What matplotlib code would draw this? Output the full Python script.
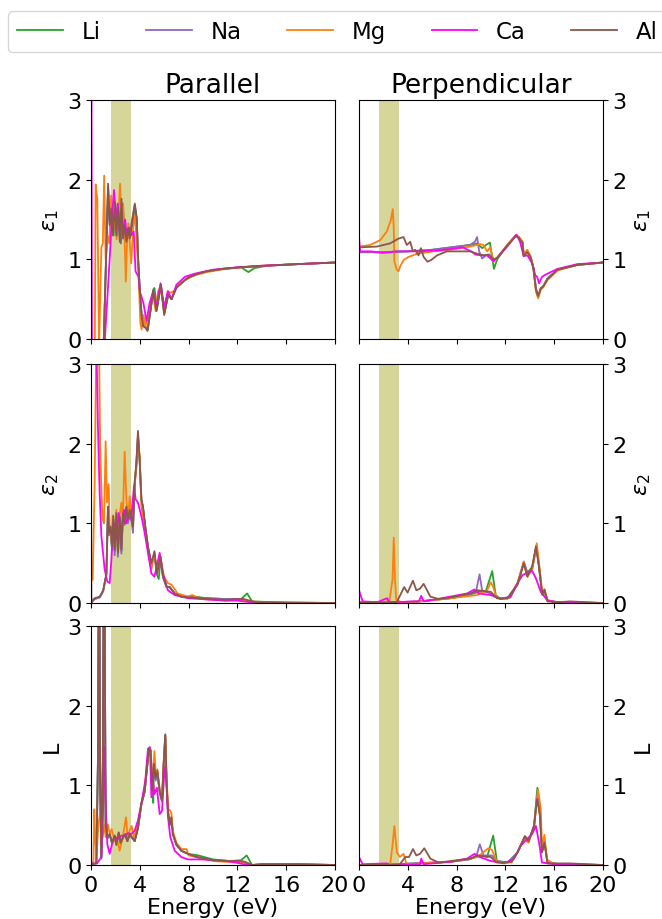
import matplotlib
matplotlib.use("Agg")
import matplotlib.pyplot as plt
from matplotlib.lines import Line2D

elements = ["Li", "Na", "Mg", "Ca", "Al"]
colors = ["tab:green", "tab:purple", "tab:orange", "magenta", "tab:brown"]
visible_band = (1.65, 3.26)
x_ticks = [0, 4, 8, 12, 16, 20]
y_ticks = [0, 1, 2, 3]
column_titles = ["Parallel", "Perpendicular"]
row_labels = [r"$\epsilon_1$", r"$\epsilon_2$", "L"]

# ---------------- eps1, parallel ----------------
e1_par_Li = [(0.0,-4.0),(0.9,-0.4),(1.05,0.0),(1.4,1.9),(1.55,1.4),(1.7,1.6),(1.85,1.3),(2.0,1.7),(2.15,1.35),(2.3,1.6),(2.45,1.2),(2.6,1.7),(2.75,1.35),(2.9,1.25),(3.05,1.4),(3.2,1.3),(3.4,1.45),(3.6,1.65),(3.75,1.5),(3.86,1.0),(4.0,0.6),(4.15,0.3),(4.3,0.18),(4.5,0.15),(4.65,0.12),(4.85,0.32),(5.1,0.62),(5.2,0.64),(5.4,0.38),(5.73,0.68),(6.0,0.32),(6.33,0.56),(6.6,0.5),(7.0,0.65),(7.7,0.74),(8.1,0.78),(8.8,0.82),(9.5,0.85),(10.8,0.88),(12.3,0.9),(12.9,0.84),(13.4,0.89),(14.4,0.92),(16.9,0.94),(20.0,0.96)]
e1_par_Na = [(0.0,-4.0),(0.9,-0.35),(1.05,0.0),(1.4,1.9),(1.53,1.45),(1.67,1.6),(1.8,1.32),(1.95,1.7),(2.08,1.32),(2.22,1.6),(2.38,1.22),(2.5,1.7),(2.63,1.3),(2.77,1.42),(2.9,1.25),(3.04,1.38),(3.18,1.3),(3.37,1.5),(3.59,1.68),(3.75,1.52),(3.86,1.02),(4.0,0.62),(4.14,0.32),(4.27,0.17),(4.47,0.15),(4.63,0.12),(4.82,0.3),(5.1,0.6),(5.37,0.36),(5.73,0.68),(6.0,0.32),(6.33,0.56),(6.6,0.5),(7.0,0.65),(7.7,0.74),(8.1,0.78),(8.8,0.82),(9.5,0.85),(10.8,0.88),(12.2,0.9),(14.4,0.92),(16.9,0.94),(20.0,0.96)]
e1_par_Mg = [(0.0,-2.0),(0.3,-0.5),(0.38,1.94),(0.52,1.75),(0.66,-0.1),(0.85,1.15),(0.97,1.2),(1.08,2.05),(1.2,1.0),(1.35,1.3),(1.5,1.2),(1.65,1.8),(1.8,1.3),(1.95,1.6),(2.1,1.25),(2.25,1.5),(2.38,1.95),(2.5,1.5),(2.63,1.7),(2.75,1.3),(2.85,0.72),(2.95,1.2),(3.05,1.45),(3.18,1.2),(3.3,0.95),(3.45,1.4),(3.6,1.55),(3.75,1.2),(3.9,0.8),(4.05,0.2),(4.15,0.12),(4.3,0.3),(4.45,0.15),(4.7,0.3),(4.9,0.45),(5.1,0.55),(5.3,0.35),(5.5,0.6),(5.7,0.65),(6.0,0.35),(6.3,0.6),(6.5,0.58),(6.8,0.6),(7.2,0.68),(7.7,0.74),(8.5,0.8),(9.5,0.84),(11.0,0.88),(12.5,0.9),(14.0,0.92),(17.0,0.94),(20.0,0.96)]
e1_par_Ca = [(0.0,8.0),(0.04,3.2),(0.1,-2.0),(0.5,-1.5),(1.1,-0.1),(1.53,1.0),(1.7,1.5),(1.89,1.87),(2.05,1.5),(2.2,1.7),(2.35,1.35),(2.5,1.6),(2.65,1.3),(2.8,1.5),(2.95,1.25),(3.1,1.4),(3.3,1.3),(3.5,1.35),(3.65,0.85),(3.9,0.78),(4.0,0.6),(4.3,0.45),(4.55,0.22),(4.8,0.45),(5.1,0.6),(5.35,0.4),(5.7,0.7),(6.0,0.4),(6.3,0.6),(6.6,0.5),(7.0,0.68),(7.7,0.78),(8.5,0.82),(10.0,0.87),(12.0,0.9),(14.0,0.92),(17.0,0.94),(20.0,0.96)]
e1_par_Al = [(0.0,-4.0),(0.9,-0.3),(1.05,0.0),(1.4,1.95),(1.53,1.43),(1.67,1.64),(1.8,1.3),(1.95,1.72),(2.08,1.3),(2.22,1.64),(2.36,1.22),(2.5,1.76),(2.63,1.26),(2.77,1.43),(2.9,1.22),(3.04,1.39),(3.18,1.26),(3.37,1.47),(3.59,1.7),(3.75,1.51),(3.86,1.01),(4.0,0.6),(4.14,0.3),(4.27,0.16),(4.47,0.14),(4.63,0.1),(4.82,0.3),(5.1,0.6),(5.37,0.35),(5.73,0.68),(6.0,0.3),(6.33,0.55),(6.6,0.5),(7.0,0.64),(7.7,0.74),(8.1,0.78),(8.8,0.82),(9.5,0.85),(10.8,0.88),(12.2,0.9),(14.4,0.92),(16.9,0.94),(20.0,0.96)]

# ---------------- eps2, parallel ----------------
e2_par_Li = [(0.0,0.0),(0.3,0.05),(0.71,0.07),(1.0,0.15),(1.26,0.35),(1.39,1.15),(1.48,0.85),(1.6,0.95),(1.72,0.7),(1.83,1.05),(1.94,0.65),(2.08,1.1),(2.21,0.62),(2.35,1.05),(2.49,0.65),(2.62,1.1),(2.76,1.0),(2.9,1.2),(3.03,1.02),(3.17,1.15),(3.3,1.05),(3.44,0.95),(3.58,1.5),(3.72,1.75),(3.85,2.1),(3.99,1.78),(4.13,1.3),(4.26,1.2),(4.45,0.95),(4.67,0.7),(4.95,0.48),(5.2,0.62),(5.4,0.36),(5.55,0.3),(5.7,0.55),(5.9,0.33),(6.2,0.2),(6.45,0.2),(6.86,0.12),(7.4,0.08),(8.5,0.08),(9.5,0.06),(11.0,0.05),(12.3,0.05),(12.8,0.12),(13.2,0.02),(16.0,0.005),(20.0,0.0)]
e2_par_Na = [(0.0,0.0),(0.3,0.05),(0.71,0.07),(1.0,0.15),(1.26,0.36),(1.39,1.18),(1.48,0.86),(1.6,0.94),(1.72,0.66),(1.83,1.05),(1.94,0.6),(2.08,1.1),(2.21,0.58),(2.35,1.05),(2.49,0.62),(2.62,1.1),(2.76,0.98),(2.9,1.18),(3.03,1.0),(3.17,1.12),(3.3,1.05),(3.44,0.88),(3.58,1.48),(3.72,1.74),(3.85,2.12),(3.99,1.78),(4.13,1.3),(4.26,1.2),(4.45,0.95),(4.67,0.7),(4.95,0.48),(5.2,0.62),(5.4,0.36),(5.7,0.56),(5.9,0.33),(6.2,0.2),(6.45,0.2),(6.86,0.12),(7.4,0.08),(8.5,0.07),(9.5,0.06),(11.0,0.05),(12.3,0.05),(13.2,0.01),(16.0,0.005),(20.0,0.0)]
e2_par_Mg = [(0.0,0.29),(0.14,0.29),(0.3,1.5),(0.45,3.5),(0.6,4.0),(0.75,2.0),(0.85,1.42),(0.96,1.05),(1.07,1.0),(1.2,2.03),(1.31,1.26),(1.45,1.49),(1.53,0.96),(1.65,0.8),(1.8,1.1),(1.95,0.75),(2.08,1.17),(2.2,0.7),(2.35,1.1),(2.49,1.26),(2.6,1.0),(2.76,1.9),(2.9,1.3),(3.03,1.05),(3.17,1.34),(3.3,1.1),(3.44,1.13),(3.58,1.5),(3.72,1.68),(3.85,2.01),(3.99,1.84),(4.13,1.21),(4.4,0.96),(4.67,0.67),(4.95,0.42),(5.2,0.63),(5.4,0.37),(5.7,0.58),(5.98,0.33),(6.3,0.25),(6.6,0.23),(7.1,0.12),(7.95,0.08),(8.3,0.1),(9.0,0.05),(10.0,0.04),(11.0,0.03),(12.0,0.04),(13.0,0.02),(16.0,0.0),(20.0,0.0)]
e2_par_Ca = [(0.0,8.0),(0.2,5.0),(0.45,3.2),(0.57,2.2),(0.71,1.38),(0.85,0.84),(1.12,0.42),(1.34,0.27),(1.53,0.25),(1.67,0.54),(1.8,0.96),(1.94,1.0),(2.08,0.8),(2.27,1.13),(2.49,0.88),(2.7,1.17),(2.9,1.0),(3.09,1.09),(3.3,1.05),(3.52,1.47),(3.66,1.3),(3.85,1.26),(4.13,1.09),(4.4,0.88),(4.67,0.63),(4.95,0.37),(5.2,0.33),(5.5,0.54),(5.63,0.63),(5.9,0.37),(6.3,0.16),(6.86,0.1),(7.95,0.06),(9.0,0.05),(10.0,0.04),(11.0,0.03),(12.0,0.03),(13.0,0.01),(16.0,0.0),(20.0,0.0)]
e2_par_Al = [(0.0,2.22),(0.03,0.02),(0.3,0.06),(0.71,0.08),(1.0,0.16),(1.26,0.37),(1.39,1.21),(1.48,0.88),(1.6,0.96),(1.72,0.71),(1.83,1.09),(1.94,0.67),(2.08,1.13),(2.21,0.63),(2.35,1.09),(2.49,0.67),(2.62,1.13),(2.76,1.0),(2.9,1.21),(3.03,1.05),(3.17,1.17),(3.3,1.09),(3.44,0.96),(3.58,1.51),(3.72,1.76),(3.85,2.16),(3.99,1.8),(4.13,1.3),(4.26,1.21),(4.45,0.96),(4.67,0.71),(4.95,0.5),(5.2,0.65),(5.4,0.37),(5.7,0.58),(5.9,0.33),(6.2,0.2),(6.45,0.2),(6.86,0.12),(7.4,0.08),(7.95,0.07),(9.0,0.06),(10.0,0.05),(11.0,0.04),(12.0,0.05),(12.5,0.05),(13.5,0.01),(16.0,0.005),(20.0,0.0)]

# ---------------- loss function L, parallel ----------------
L_par_Li = [(0.0,0.0),(0.44,0.02),(0.57,1.3),(0.66,5.0),(0.75,1.0),(0.85,0.08),(0.97,1.3),(1.07,5.0),(1.2,0.5),(1.34,0.33),(1.53,0.38),(1.72,0.27),(1.94,0.36),(2.08,0.25),(2.27,0.4),(2.43,0.27),(2.62,0.34),(2.81,0.38),(2.98,0.3),(3.17,0.38),(3.36,0.34),(3.58,0.3),(3.85,0.46),(4.13,0.76),(4.4,0.92),(4.62,1.25),(4.75,1.44),(4.89,1.42),(5.03,0.9),(5.1,0.78),(5.16,1.25),(5.3,1.08),(5.44,1.16),(5.63,0.92),(5.82,0.8),(5.98,1.33),(6.09,1.62),(6.2,1.0),(6.31,0.67),(6.45,0.5),(6.58,0.58),(6.72,0.38),(7.0,0.25),(7.4,0.18),(7.95,0.14),(8.8,0.12),(10.0,0.07),(11.4,0.05),(12.3,0.06),(12.76,0.12),(13.2,0.0),(14.0,0.01),(17.0,0.01),(20.0,0.0)]
L_par_Na = [(0.0,0.0),(0.44,0.02),(0.57,1.3),(0.66,5.0),(0.75,1.0),(0.85,0.09),(0.97,1.3),(1.07,5.0),(1.2,0.5),(1.34,0.34),(1.53,0.38),(1.72,0.28),(1.94,0.36),(2.08,0.26),(2.27,0.4),(2.43,0.27),(2.62,0.35),(2.81,0.38),(2.98,0.3),(3.17,0.38),(3.36,0.34),(3.58,0.3),(3.85,0.46),(4.13,0.76),(4.4,0.92),(4.62,1.26),(4.75,1.45),(4.89,1.43),(5.03,0.92),(5.16,1.24),(5.3,1.06),(5.44,1.16),(5.63,0.9),(5.82,0.8),(5.98,1.34),(6.09,1.63),(6.2,1.01),(6.31,0.67),(6.45,0.5),(6.58,0.59),(6.72,0.38),(7.0,0.25),(7.4,0.18),(7.95,0.14),(8.66,0.1),(10.0,0.06),(11.4,0.05),(12.2,0.05),(12.6,0.04),(13.2,0.0),(14.0,0.01),(17.0,0.01),(20.0,0.0)]
L_par_Mg = [(0.0,0.0),(0.2,0.05),(0.27,0.7),(0.36,0.3),(0.46,0.12),(0.6,0.49),(0.79,0.72),(0.9,0.3),(1.0,0.4),(1.1,0.5),(1.2,0.35),(1.39,0.51),(1.53,0.39),(1.7,0.45),(1.94,0.3),(2.1,0.35),(2.35,0.18),(2.6,0.35),(2.87,0.6),(3.0,0.35),(3.17,0.43),(3.33,0.49),(3.5,0.35),(3.85,0.5),(4.13,0.78),(4.4,0.95),(4.62,1.3),(4.75,1.46),(4.89,1.45),(5.03,1.0),(5.2,1.43),(5.3,1.15),(5.44,1.2),(5.63,0.95),(5.82,0.85),(5.98,1.35),(6.09,1.6),(6.2,1.05),(6.35,0.7),(6.5,0.68),(6.6,0.64),(6.72,0.42),(7.0,0.28),(7.4,0.2),(7.84,0.2),(8.0,0.12),(9.0,0.09),(10.0,0.05),(11.0,0.04),(12.0,0.04),(12.5,0.03),(13.0,0.0),(20.0,0.0)]
L_par_Ca = [(0.0,0.02),(0.5,0.02),(0.85,0.1),(0.97,0.5),(1.05,1.2),(1.12,1.48),(1.2,0.8),(1.34,0.26),(1.53,0.14),(1.72,0.26),(1.94,0.35),(2.2,0.33),(2.5,0.37),(2.8,0.36),(3.0,0.4),(3.3,0.39),(3.58,0.43),(3.85,0.56),(4.13,0.77),(4.45,1.06),(4.67,1.46),(4.83,1.48),(4.95,0.85),(5.08,1.06),(5.2,0.89),(5.4,0.97),(5.63,0.64),(5.82,0.68),(6.04,1.23),(6.17,1.06),(6.31,0.6),(6.5,0.35),(6.86,0.18),(7.4,0.1),(7.95,0.07),(9.0,0.07),(10.0,0.06),(11.0,0.05),(11.9,0.03),(12.5,0.01),(13.0,0.0),(20.0,0.0)]
L_par_Al = [(0.0,0.0),(0.44,0.03),(0.57,1.35),(0.66,5.0),(0.75,1.0),(0.85,0.1),(0.97,1.3),(1.07,5.0),(1.2,0.5),(1.34,0.35),(1.53,0.39),(1.72,0.28),(1.94,0.37),(2.08,0.26),(2.27,0.41),(2.43,0.28),(2.62,0.35),(2.81,0.39),(2.98,0.3),(3.17,0.39),(3.36,0.35),(3.58,0.3),(3.85,0.47),(4.13,0.77),(4.4,0.93),(4.62,1.27),(4.75,1.46),(4.89,1.44),(5.03,0.93),(5.16,1.27),(5.3,1.1),(5.44,1.18),(5.63,0.93),(5.82,0.81),(5.98,1.35),(6.09,1.64),(6.2,1.02),(6.31,0.68),(6.45,0.51),(6.58,0.6),(6.72,0.39),(7.0,0.26),(7.4,0.18),(7.95,0.14),(8.66,0.1),(10.0,0.06),(11.4,0.05),(12.2,0.05),(12.6,0.04),(13.2,0.0),(14.0,0.01),(17.0,0.01),(20.0,0.0)]

# ---------------- eps1, perpendicular ----------------
e1_perp_Li = [(0.0,1.09),(2.0,1.09),(4.0,1.1),(6.0,1.12),(7.5,1.15),(9.1,1.18),(9.7,1.2),(10.1,1.14),(10.4,1.18),(10.73,1.21),(11.06,0.88),(11.33,1.0),(12.15,1.18),(12.84,1.3),(13.1,1.28),(13.4,1.22),(13.5,1.05),(13.8,1.1),(14.07,1.03),(14.3,0.89),(14.5,0.64),(14.68,0.53),(14.9,0.64),(15.1,0.66),(15.45,0.76),(16.27,0.87),(17.9,0.93),(20.0,0.96)]
e1_perp_Na = [(0.0,1.09),(2.0,1.09),(4.0,1.1),(6.0,1.12),(7.5,1.15),(9.1,1.18),(9.5,1.22),(9.68,1.28),(9.85,1.1),(10.1,1.01),(10.4,1.05),(10.7,1.06),(11.0,0.97),(11.33,1.02),(12.15,1.18),(12.84,1.3),(13.1,1.28),(13.4,1.22),(13.5,1.05),(13.8,1.1),(14.07,1.03),(14.3,0.89),(14.5,0.64),(14.68,0.53),(14.9,0.64),(15.1,0.66),(15.45,0.76),(16.27,0.87),(17.9,0.93),(20.0,0.96)]
e1_perp_Mg = [(0.0,1.16),(0.9,1.18),(1.73,1.24),(2.28,1.35),(2.6,1.49),(2.77,1.63),(2.85,1.39),(2.9,0.97),(3.1,0.87),(3.24,0.85),(3.37,0.91),(3.65,0.99),(4.06,1.03),(4.75,1.07),(6.1,1.1),(7.5,1.12),(9.1,1.16),(9.96,1.19),(10.2,1.18),(10.5,1.1),(10.75,1.15),(11.05,0.97),(11.33,1.02),(12.15,1.18),(12.84,1.3),(13.1,1.28),(13.4,1.22),(13.5,1.07),(13.8,1.12),(14.07,1.04),(14.3,0.88),(14.5,0.6),(14.68,0.51),(14.9,0.62),(15.1,0.65),(15.45,0.74),(16.27,0.86),(17.9,0.93),(20.0,0.96)]
e1_perp_Ca = [(0.0,1.28),(0.1,1.1),(1.0,1.1),(2.0,1.08),(3.0,1.1),(5.0,1.1),(7.0,1.12),(8.5,1.15),(9.2,1.1),(9.55,1.06),(10.0,1.05),(10.5,1.05),(11.0,0.98),(11.33,1.02),(12.15,1.16),(12.92,1.31),(13.2,1.22),(13.5,1.04),(13.8,1.05),(14.2,0.95),(14.45,0.8),(14.6,0.78),(14.76,0.7),(15.0,0.78),(15.2,0.8),(15.45,0.82),(16.27,0.88),(17.9,0.94),(20.0,0.96)]
e1_perp_Al = [(0.0,1.15),(1.45,1.16),(2.55,1.2),(3.24,1.26),(3.65,1.28),(3.92,1.18),(4.2,1.22),(4.42,1.1),(4.6,1.12),(4.88,1.05),(5.07,1.14),(5.3,1.03),(5.62,0.97),(5.9,0.99),(6.4,1.05),(7.2,1.1),(8.3,1.1),(9.1,1.1),(9.7,1.07),(10.2,1.05),(10.6,1.06),(11.05,1.0),(11.33,1.02),(12.15,1.17),(12.84,1.29),(13.1,1.27),(13.4,1.2),(13.5,1.04),(13.8,1.09),(14.07,1.02),(14.3,0.88),(14.5,0.62),(14.68,0.54),(14.9,0.63),(15.1,0.66),(15.45,0.75),(16.27,0.87),(17.9,0.93),(20.0,0.96)]

# ---------------- eps2, perpendicular ----------------
e2_perp_Li = [(0.0,0.01),(3.0,0.01),(5.0,0.02),(7.5,0.06),(9.0,0.1),(9.8,0.14),(10.4,0.15),(10.92,0.4),(11.2,0.1),(11.6,0.05),(12.4,0.07),(13.0,0.25),(13.52,0.5),(13.8,0.38),(14.2,0.45),(14.54,0.72),(14.76,0.45),(15.0,0.12),(15.2,0.15),(15.45,0.03),(16.3,0.01),(20.0,0.0)]
e2_perp_Na = [(0.0,0.01),(3.0,0.01),(5.0,0.02),(7.5,0.06),(9.0,0.1),(9.6,0.15),(9.88,0.36),(10.1,0.15),(10.8,0.12),(11.2,0.08),(11.6,0.05),(12.4,0.07),(13.0,0.25),(13.52,0.52),(13.8,0.38),(14.2,0.43),(14.54,0.7),(14.76,0.45),(15.0,0.12),(15.2,0.15),(15.45,0.03),(16.3,0.01),(20.0,0.0)]
e2_perp_Mg = [(0.0,0.0),(2.0,0.01),(2.5,0.03),(2.75,0.3),(2.85,0.82),(2.95,0.3),(3.05,0.04),(3.5,0.01),(5.0,0.02),(7.5,0.06),(9.7,0.1),(10.5,0.16),(10.8,0.26),(11.0,0.2),(11.3,0.06),(12.15,0.05),(13.0,0.25),(13.5,0.52),(13.8,0.33),(14.2,0.42),(14.57,0.75),(14.76,0.5),(15.03,0.12),(15.2,0.17),(15.45,0.04),(16.3,0.0),(20.0,0.0)]
e2_perp_Ca = [(0.0,0.16),(0.3,0.02),(1.5,0.01),(2.3,0.06),(2.5,0.01),(4.9,0.02),(5.1,0.09),(5.3,0.02),(7.5,0.08),(8.86,0.12),(9.46,0.17),(9.8,0.12),(10.8,0.1),(11.6,0.05),(12.4,0.08),(13.0,0.25),(13.4,0.35),(13.8,0.38),(14.2,0.4),(14.5,0.31),(14.9,0.14),(15.45,0.03),(16.3,0.01),(20.0,0.0)]
e2_perp_Al = [(0.0,0.0),(3.1,0.01),(3.7,0.2),(3.98,0.13),(4.42,0.28),(4.7,0.16),(5.0,0.18),(5.3,0.24),(5.85,0.08),(6.53,0.05),(7.5,0.07),(9.1,0.12),(9.7,0.16),(10.8,0.14),(11.3,0.06),(12.15,0.06),(13.0,0.23),(13.5,0.5),(13.8,0.33),(14.2,0.46),(14.5,0.71),(14.76,0.45),(15.03,0.1),(15.2,0.17),(15.45,0.02),(16.3,0.01),(17.3,0.02),(20.0,0.0)]

# ---------------- loss function L, perpendicular ----------------
L_perp_Li = [(0.0,0.0),(3.0,0.01),(7.5,0.04),(9.0,0.07),(9.9,0.12),(10.5,0.1),(11.0,0.37),(11.3,0.05),(12.2,0.03),(13.0,0.16),(13.6,0.36),(13.9,0.3),(14.35,0.5),(14.62,0.97),(14.84,0.6),(15.0,0.16),(15.2,0.3),(15.45,0.03),(16.5,0.01),(20.0,0.0)]
L_perp_Na = [(0.0,0.0),(3.0,0.01),(7.5,0.04),(9.0,0.07),(9.6,0.1),(9.9,0.26),(10.2,0.12),(10.9,0.12),(11.3,0.05),(12.2,0.03),(13.0,0.16),(13.6,0.36),(13.9,0.3),(14.35,0.48),(14.62,0.9),(14.84,0.6),(15.0,0.16),(15.2,0.3),(15.45,0.03),(16.5,0.01),(20.0,0.0)]
L_perp_Mg = [(0.0,0.0),(2.55,0.0),(2.75,0.25),(2.9,0.49),(3.1,0.16),(3.35,0.1),(3.65,0.14),(3.9,0.01),(7.5,0.04),(9.7,0.1),(10.6,0.21),(10.9,0.19),(11.3,0.04),(12.5,0.03),(13.0,0.16),(13.5,0.33),(13.9,0.28),(14.35,0.49),(14.68,0.95),(14.9,0.7),(15.0,0.2),(15.2,0.38),(15.4,0.07),(16.0,0.01),(20.0,0.0)]
L_perp_Ca = [(0.0,0.1),(0.3,0.01),(2.3,0.02),(2.5,0.0),(5.0,0.01),(5.1,0.08),(5.3,0.01),(7.5,0.04),(8.86,0.08),(9.46,0.14),(9.9,0.1),(10.8,0.05),(11.9,0.02),(12.7,0.08),(13.25,0.24),(13.8,0.33),(14.2,0.39),(14.5,0.49),(14.76,0.28),(15.0,0.03),(16.0,0.01),(20.0,0.0)]
L_perp_Al = [(0.0,0.0),(3.3,0.0),(3.8,0.1),(4.1,0.1),(4.42,0.2),(4.7,0.12),(5.0,0.14),(5.35,0.21),(5.85,0.08),(6.53,0.03),(7.5,0.05),(9.1,0.08),(9.7,0.12),(10.8,0.1),(11.3,0.03),(12.5,0.04),(13.0,0.16),(13.6,0.36),(13.9,0.3),(14.35,0.49),(14.6,0.83),(14.84,0.62),(15.0,0.16),(15.2,0.28),(15.45,0.02),(17.3,0.02),(20.0,0.0)]

panels = [
    [[e1_par_Li, e1_par_Na, e1_par_Mg, e1_par_Ca, e1_par_Al],
     [e1_perp_Li, e1_perp_Na, e1_perp_Mg, e1_perp_Ca, e1_perp_Al]],
    [[e2_par_Li, e2_par_Na, e2_par_Mg, e2_par_Ca, e2_par_Al],
     [e2_perp_Li, e2_perp_Na, e2_perp_Mg, e2_perp_Ca, e2_perp_Al]],
    [[L_par_Li, L_par_Na, L_par_Mg, L_par_Ca, L_par_Al],
     [L_perp_Li, L_perp_Na, L_perp_Mg, L_perp_Ca, L_perp_Al]],
]

W, H = 662, 920
fig = plt.figure(figsize=(W / 100, H / 100), dpi=100)

col_left = [91, 359]
col_width = 244
row_top = [101, 365, 627]
row_height = 239

TICK_FS = 16
LABEL_FS = 16
TITLE_FS = 19

for r in range(3):
    for c in range(2):
        ax = fig.add_axes([col_left[c] / W, 1 - (row_top[r] + row_height) / H,
                           col_width / W, row_height / H])
        ax.axvspan(*visible_band, color="#d6d59a", lw=0, zorder=0)
        for series, col in zip(panels[r][c], colors):
            xs = [p[0] for p in series]
            ys = [p[1] for p in series]
            ax.plot(xs, ys, color=col, lw=1.3)
        ax.set_xlim(0, 20)
        ax.set_ylim(0, 3)
        ax.set_xticks(x_ticks)
        ax.set_yticks(y_ticks)
        ax.tick_params(labelsize=TICK_FS)
        if r < 2:
            ax.tick_params(labelbottom=False)
        else:
            ax.set_xlabel("Energy (eV)", fontsize=LABEL_FS, labelpad=2)
        ax.set_ylabel(row_labels[r], fontsize=LABEL_FS)
        if c == 1:
            ax.yaxis.tick_right()
            ax.yaxis.set_label_position("right")
        if r == 0:
            ax.set_title(column_titles[c], fontsize=TITLE_FS)

handles = [Line2D([], [], color=col, lw=1.3) for col in colors]
fig.legend(handles, elements, loc="upper left", bbox_to_anchor=(8 / W, 1 - 12 / H),
           borderaxespad=0, ncol=5, fontsize=16.5)

fig.savefig("out.png", dpi=100)
